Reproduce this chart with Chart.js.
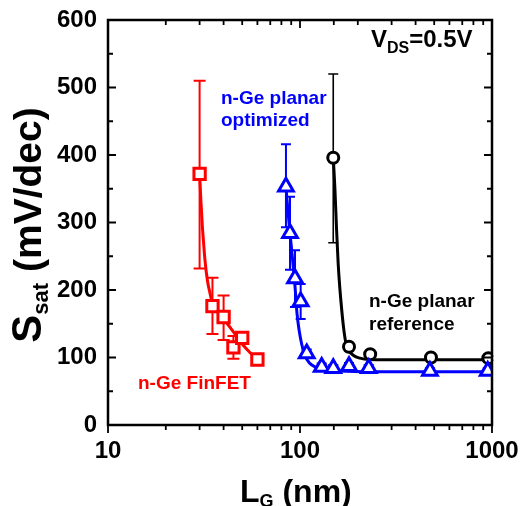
<!DOCTYPE html>
<html>
<head>
<meta charset="utf-8">
<script src="https://cdn.jsdelivr.net/npm/chart.js@4.4.1/dist/chart.umd.min.js"></script>
<style>
  html, body { margin: 0; padding: 0; background: #fff; }
  #chartSS { display: block; }
</style>
</head>
<body>
<canvas id="chartSS" width="520" height="506"></canvas>
<script>
// n-Ge FinFET
const finLg = [30, 35, 40, 45, 50, 60];
const finS = [372, 176, 160, 115, 129, 97];
const finLo = [232, 135, 126, 98, 121, 91];
const finHi = [510, 218, 192, 132, 137, 103];
const finFitLg = [30, 30.5, 31, 31.5, 32, 33, 34, 35, 37, 40, 45, 50, 55, 60];
const finFitS = [372, 330, 295, 268, 244, 213, 195, 180, 168, 157, 138, 120, 107, 97];

// n-Ge planar optimized
const optLg = [84.5, 88.7, 94.2, 100.8, 108.4, 129.7, 149, 180, 228, 475, 950];
const optS = [353, 284, 217, 183, 106, 86, 84, 87, 84, 80, 80];
const optLo = [293, 230, 175, 157, 100, 81, 79, 82, 79, 76, 76];
const optHi = [416, 338, 259, 209, 112, 91, 89, 92, 89, 84, 84];
const optFitLg = [84.5, 86.5, 88.7, 91.5, 94.2, 96.5, 99, 102, 106, 112, 120, 135, 160, 250, 1000];
const optFitS = [353, 318, 284, 245, 205, 165, 140, 120, 103, 92, 86, 82, 80, 79, 79];

// n-Ge planar reference
const refLg = [149, 180, 232, 481, 957];
const refS = [396, 116, 105, 100, 99];
const refLo = [270, 112, 101, 97, 96];
const refHi = [520, 120, 109, 103, 102];
const refFitLg = [149, 152, 155, 158, 161, 165, 169, 173, 180, 190, 205, 230, 350, 1000];
const refFitS = [396, 350, 290, 240, 205, 170, 142, 123, 110, 103, 99, 97, 96.5, 96.5];

const xMajor = [10, 100, 1000];
const yMin = 0, yMax = 600, yStep = 100, yMinorStep = 50;

const RED = '#ff0000', BLUE = '#0000ff', BLACK = '#000000';
const FONT = '"Liberation Sans", Arial, sans-serif';

const pts = (xs, ys) => xs.map((v, i) => ({ x: v, y: ys[i] }));

const errGroups = [
  { xs: finLg, lo: finLo, hi: finHi, color: RED, width: 2, cap: 6 },
  { xs: optLg, lo: optLo, hi: optHi, color: BLUE, width: 2, cap: 5 },
  { xs: refLg, lo: refLo, hi: refHi, color: BLACK, width: 1.6, cap: 5 }
];

// vertical error bars, drawn under the markers
const errorBars = {
  id: 'errorBars',
  beforeDatasetsDraw(chart) {
    const { ctx, scales: { x, y } } = chart;
    ctx.save();
    errGroups.forEach(g => {
      ctx.strokeStyle = g.color;
      ctx.lineWidth = g.width;
      g.xs.forEach((v, i) => {
        const px = x.getPixelForValue(v);
        const p1 = y.getPixelForValue(g.lo[i]);
        const p2 = y.getPixelForValue(g.hi[i]);
        ctx.beginPath();
        ctx.moveTo(px, p1); ctx.lineTo(px, p2);
        ctx.moveTo(px - g.cap, p1); ctx.lineTo(px + g.cap, p1);
        ctx.moveTo(px - g.cap, p2); ctx.lineTo(px + g.cap, p2);
        ctx.stroke();
      });
    });
    ctx.restore();
  }
};

function subText(ctx, parts, x, y) {
  // parts: [text, size, dy]
  let cx = x;
  parts.forEach(([t, size, dy]) => {
    ctx.font = 'bold ' + size + 'px ' + FONT;
    ctx.fillText(t, cx, y + dy);
    cx += ctx.measureText(t).width;
  });
  return cx - x;
}

function partsWidth(ctx, parts) {
  let w = 0;
  parts.forEach(([t, size]) => {
    ctx.font = 'bold ' + size + 'px ' + FONT;
    w += ctx.measureText(t).width;
  });
  return w;
}

// frame, inward ticks, axis titles and labels
const frame = {
  id: 'frame',
  afterDraw(chart) {
    const { ctx, chartArea: a, scales: { x, y } } = chart;
    ctx.save();
    ctx.strokeStyle = BLACK;
    ctx.lineWidth = 2.5;
    ctx.strokeRect(a.left, a.top, a.right - a.left, a.bottom - a.top);

    ctx.lineWidth = 1.8;
    ctx.beginPath();
    x.ticks.forEach(t => {
      const px = x.getPixelForValue(t.value);
      const len = xMajor.includes(t.value) ? 8 : 5;
      ctx.moveTo(px, a.bottom); ctx.lineTo(px, a.bottom + len);
      ctx.moveTo(px, a.top); ctx.lineTo(px, a.top + len);
    });
    for (let v = yMin; v <= yMax; v += yMinorStep) {
      const py = y.getPixelForValue(v);
      const len = v % yStep === 0 ? 8 : 5;
      ctx.moveTo(a.left, py); ctx.lineTo(a.left + len, py);
      ctx.moveTo(a.right, py); ctx.lineTo(a.right - len, py);
    }
    ctx.stroke();

    ctx.textBaseline = 'alphabetic';
    ctx.textAlign = 'left';

    // x title
    ctx.fillStyle = BLACK;
    subText(ctx, [['L', 32, 0], ['G', 18, 5], [' (nm)', 32, 0]], 240, 502);

    // y title
    const yParts = [['S', 42, 0], ['sat', 22, 7], [' (mV/dec)', 39, 0]];
    ctx.save();
    ctx.translate(41, 225);
    ctx.rotate(-Math.PI / 2);
    subText(ctx, yParts, -partsWidth(ctx, yParts) / 2, 0);
    ctx.restore();

    // bias condition
    subText(ctx, [['V', 24, 0], ['DS', 16, 6], ['=0.5V', 24, 0]], 371, 47);

    // series labels
    ctx.font = 'bold 19px ' + FONT;
    ctx.fillStyle = BLUE;
    ctx.fillText('n-Ge planar', 221, 104);
    ctx.fillText('optimized', 221, 126);
    ctx.fillStyle = BLACK;
    ctx.fillText('n-Ge planar', 369, 307);
    ctx.fillText('reference', 369, 330);
    ctx.fillStyle = RED;
    ctx.fillText('n-Ge FinFET', 138, 389);
    ctx.restore();
  }
};

const lineSet = (xs, ys, color, order) => ({
  type: 'line',
  data: pts(xs, ys),
  borderColor: color,
  borderWidth: 3,
  pointRadius: 0,
  cubicInterpolationMode: 'monotone',
  fill: false,
  order
});

const markerSet = (xs, ys, color, style, r, order) => ({
  type: 'scatter',
  data: pts(xs, ys),
  showLine: false,
  pointStyle: style,
  pointRadius: r,
  pointBorderWidth: 3,
  pointBorderColor: color,
  pointBackgroundColor: '#ffffff',
  order
});

const chart = new Chart(document.getElementById('chartSS'), {
  data: {
    datasets: [
      markerSet(finLg, finS, RED, 'rect', 8, 1),
      markerSet(optLg, optS, BLUE, 'triangle', 8.5, 1),
      markerSet(refLg, refS, BLACK, 'circle', 5.5, 1),
      lineSet(finFitLg, finFitS, RED, 2),
      lineSet(optFitLg, optFitS, BLUE, 2),
      lineSet(refFitLg, refFitS, BLACK, 2)
    ]
  },
  options: {
    responsive: false,
    animation: false,
    layout: { padding: { left: 0, top: 20, right: 28, bottom: 0 } },
    plugins: { legend: { display: false }, tooltip: { enabled: false } },
    scales: {
      x: {
        type: 'logarithmic',
        min: 10,
        max: 1000,
        grid: { display: false, drawTicks: false },
        border: { display: false },
        ticks: {
          autoSkip: false,
          maxRotation: 0,
          padding: 12,
          color: BLACK,
          font: { family: FONT, size: 24, weight: 'bold' },
          callback: v => (xMajor.includes(v) ? String(v) : '')
        },
        afterFit: s => {
          s.height = 81;
          s.paddingLeft = 0;
          s.paddingRight = 0;
        }
      },
      y: {
        min: yMin,
        max: yMax,
        grid: { display: false, drawTicks: false },
        border: { display: false },
        ticks: {
          stepSize: yStep,
          padding: 11,
          color: BLACK,
          font: { family: FONT, size: 24, weight: 'bold' }
        },
        afterFit: s => {
          s.width = 108;
          s.paddingTop = 0;
          s.paddingBottom = 0;
        }
      }
    }
  },
  plugins: [errorBars, frame]
});
</script>
</body>
</html>
